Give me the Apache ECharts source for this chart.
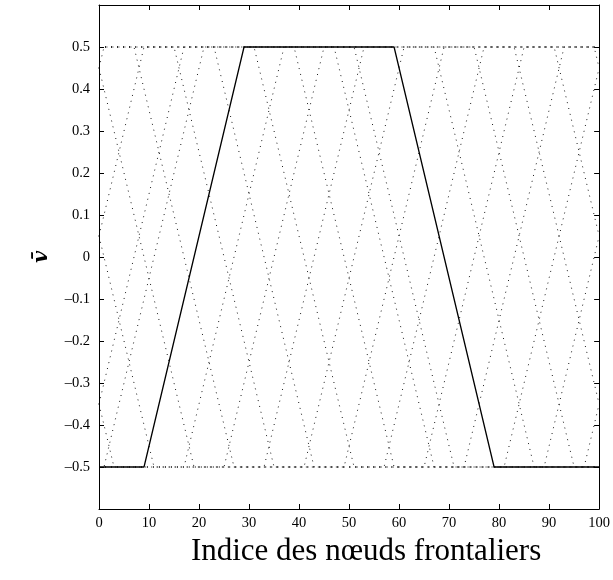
<!DOCTYPE html>
<html><head><meta charset="utf-8">
<script src="https://cdn.jsdelivr.net/npm/echarts/dist/echarts.min.js"></script>
<style>html,body{margin:0;padding:0;background:#fff;overflow:hidden}#c{width:613px;height:580px}</style>
</head><body><div id="c"></div>
<script>
// tick labels
const xTicks = [0, 10, 20, 30, 40, 50, 60, 70, 80, 90, 100];
const yTicks = [-0.5, -0.4, -0.3, -0.2, -0.1, 0, 0.1, 0.2, 0.3, 0.4, 0.5];
const xLabel = 'Indice des nœuds frontaliers';
const yLabel = 'v\u0304';

// solid profile (breakpoints)
const solidProfile = [[0,-0.5],[9,-0.5],[29,0.5],[59,0.5],[79,-0.5],[100,-0.5]];

// dotted profiles (breakpoints)
const dotA = [[0,-0.5],[1,-0.5],[21,0.5],[51,0.5],[71,-0.5],[100,-0.5]];
const dotB = [[0,-0.5],[17,-0.5],[37,0.5],[67,0.5],[87,-0.5],[100,-0.5]];
const dotC = [[0,-0.5],[25,-0.5],[45,0.5],[75,0.5],[95,-0.5],[100,-0.5]];
const dotD = [[0,-0.35],[3,-0.5],[33,-0.5],[53,0.5],[83,0.5],[100,-0.35]];
const dotE = [[0,0.05],[11,-0.5],[41,-0.5],[61,0.5],[91,0.5],[100,0.05]];
const dotF = [[0,0.45],[19,-0.5],[49,-0.5],[69,0.5],[99,0.5],[100,0.45]];
const dotG = [[0,0.5],[7,0.5],[27,-0.5],[57,-0.5],[77,0.5],[100,0.5]];
const dotH = [[0,0.5],[15,0.5],[35,-0.5],[65,-0.5],[85,0.5],[100,0.5]];
const dotI = [[0,0.5],[23,0.5],[43,-0.5],[73,-0.5],[93,0.5],[100,0.5]];
const dotJ = [[0,0.45],[1,0.5],[31,0.5],[51,-0.5],[81,-0.5],[100,0.45]];
const dotK = [[0,0.05],[9,0.5],[39,0.5],[59,-0.5],[89,-0.5],[100,0.05]];
const dotL = [[0,-0.35],[17,0.5],[47,0.5],[67,-0.5],[97,-0.5],[100,-0.35]];

const dottedProfiles = [dotA, dotB, dotC, dotD, dotE, dotF, dotG, dotH, dotI, dotJ, dotK, dotL];

const serif = '"Liberation Serif", "DejaVu Serif", serif';
const chart = echarts.init(document.getElementById('c'), null, {renderer: 'canvas', width: 613, height: 580});

function yFmt(v) {
  const r = Math.round(v * 10) / 10;
  if (!yTicks.some(t => Math.abs(t - r) < 1e-9)) return '';
  if (r === 0) return '0';
  return (r < 0 ? '\u2013' : '') + Math.abs(r).toFixed(1);
}
function xFmt(v) {
  return xTicks.indexOf(Math.round(v)) >= 0 ? String(Math.round(v)) : '';
}

const axisLine = {show: true, onZero: false, lineStyle: {color: '#000', width: 1}};
const tick = {show: true, inside: true, length: 5, lineStyle: {color: '#000', width: 1}};

const series = dottedProfiles.map(d => ({
  type: 'line', data: d, symbol: 'none', silent: true, z: 2,
  lineStyle: {color: '#000', width: 0.9, type: [1, 5]}
}));
series.push({
  type: 'line', data: solidProfile, symbol: 'none', silent: true, z: 3,
  lineStyle: {color: '#000', width: 1.3, type: 'solid'}
});

chart.setOption({
  animation: false,
  backgroundColor: '#fff',
  grid: {left: 99, right: 5, top: 5, bottom: 71, containLabel: false},
  xAxis: [
    {type: 'value', min: 0, max: 100, interval: 10, position: 'bottom',
     axisLine, axisTick: tick, splitLine: {show: false},
     axisLabel: {formatter: xFmt, color: '#000', fontFamily: serif, fontSize: 14.5, margin: 7},
     name: xLabel, nameLocation: 'middle', nameGap: 27,
     nameTextStyle: {fontFamily: serif, fontSize: 31, color: '#000', padding: [0, 0, 0, 34]}},
    {type: 'value', min: 0, max: 100, interval: 10, position: 'top',
     axisLine, axisTick: tick, splitLine: {show: false}, axisLabel: {show: false}}
  ],
  yAxis: [
    {type: 'value', min: -0.6, max: 0.6, interval: 0.1, position: 'left',
     axisLine, axisTick: tick, splitLine: {show: false},
     axisLabel: {formatter: yFmt, color: '#000', fontFamily: serif, fontSize: 14.5, margin: 9},
     name: yLabel, nameLocation: 'middle', nameGap: 47, nameRotate: 90,
     nameTextStyle: {fontFamily: '"DejaVu Serif", serif', fontStyle: 'italic', fontWeight: 'bold', fontSize: 21, color: '#000'}},
    {type: 'value', min: -0.6, max: 0.6, interval: 0.1, position: 'right',
     axisLine, axisTick: tick, splitLine: {show: false}, axisLabel: {show: false}}
  ],
  series
});
</script>
</body></html>
